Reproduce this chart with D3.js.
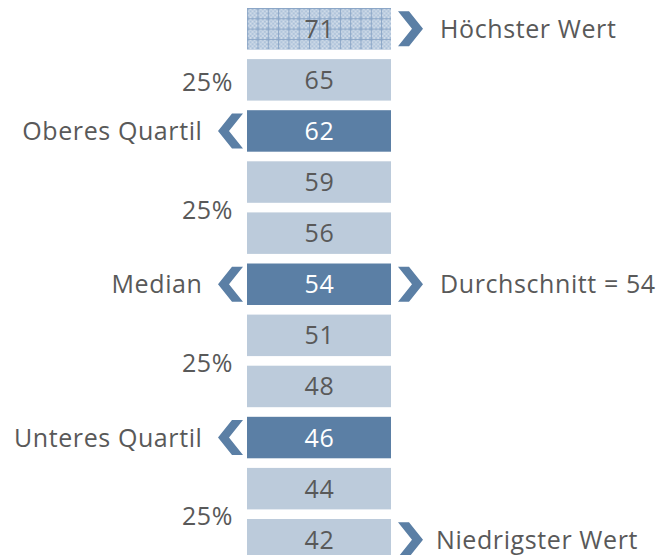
<!DOCTYPE html>
<html>
<head>
<meta charset="utf-8">
<script src="https://cdn.jsdelivr.net/npm/d3@7"></script>
<style>
  body { margin: 0; background: #fff; }
  svg text { font-family: "Open Sans", sans-serif; fill: #595959; letter-spacing: 0.6px; }
</style>
</head>
<body>
<div id="vis"></div>
<script>
// values from top to bottom
var values = [71, 65, 62, 59, 56, 54, 51, 48, 46, 44, 42];
// kind of each box: "max" has the pattern, "key" is dark
var kinds = ["max", "plain", "key", "plain", "plain", "key", "plain", "plain", "key", "plain", "plain"];
var leftLabels = [
  { row: 2, text: "Oberes Quartil" },
  { row: 5, text: "Median" },
  { row: 8, text: "Unteres Quartil" }
];
var rightLabels = [
  { row: 0, text: "Höchster Wert" },
  { row: 5, text: "Durchschnitt = 54" },
  { row: 10, text: "Niedrigster Wert" }
];
var pctLabels = [
  { row: 1, text: "25%" },
  { row: 3.5, text: "25%" },
  { row: 6.5, text: "25%" },
  { row: 9.5, text: "25%" }
];

var width = 659, height = 555;
var LIGHT = "#bccbdb", DARK = "#5b7fa5";
var FS = "25px";

var svg = d3.select("#vis").append("svg")
  .attr("width", width)
  .attr("height", height);

// pattern for the top box
var defs = svg.append("defs");
var pat = defs.append("pattern")
  .attr("id", "checks")
  .attr("patternUnits", "userSpaceOnUse")
  .attr("width", 10.3).attr("height", 10.3);
pat.append("rect").attr("width", 10.3).attr("height", 10.3).attr("fill", "#d3deea");
for (var i = 0; i < 5; i++) {
  for (var j = 0; j < 5; j++) {
    if ((i + j) % 2 === 0) {
      pat.append("rect").attr("x", i * 2 + 0.3).attr("y", j * 2 + 0.3)
        .attr("width", 2).attr("height", 2).attr("fill", "#a9bfd8");
    }
  }
}
pat.append("rect").attr("width", 10.3).attr("height", 1).attr("fill", "#8aa5c6");
pat.append("rect").attr("width", 1).attr("height", 10.3).attr("fill", "#8aa5c6");

var y = d3.scaleBand()
  .domain(d3.range(values.length))
  .range([8, 560.5])
  .paddingInner(0.188)
  .paddingOuter(0);

var x = d3.scaleLinear().domain([0, 1]).range([247, 391]);

function rowCenter(r) {
  return y(0) + y.bandwidth() / 2 + r * y.step();
}

var rows = svg.selectAll(".row")
  .data(values)
  .enter().append("g")
  .attr("class", "row")
  .attr("transform", function(d, i) { return "translate(0," + y(i) + ")"; });

rows.append("rect")
  .attr("x", x(0))
  .attr("width", x(1) - x(0))
  .attr("height", y.bandwidth())
  .attr("fill", function(d, i) {
    if (kinds[i] === "max") return "url(#checks)";
    return kinds[i] === "key" ? DARK : LIGHT;
  });

rows.append("text")
  .attr("x", (x(0) + x(1)) / 2 + 0.5)
  .attr("y", y.bandwidth() / 2)
  .attr("dy", "0.36em")
  .attr("text-anchor", "middle")
  .style("font-size", FS)
  .style("fill", function(d, i) { return kinds[i] === "key" ? "#ffffff" : "#595959"; })
  .text(function(d) { return d; });

// chevrons
var chW = 25, chH = 35, arm = 11;
function chevronRight(cx0, cy) {
  var t = cy - chH / 2, b = cy + chH / 2;
  return [[cx0, t], [cx0 + arm, t], [cx0 + chW, cy], [cx0 + arm, b], [cx0, b], [cx0 + chW - arm, cy]];
}
function chevronLeft(cx1, cy) {
  var t = cy - chH / 2, b = cy + chH / 2;
  return [[cx1, t], [cx1 - arm, t], [cx1 - chW, cy], [cx1 - arm, b], [cx1, b], [cx1 - chW + arm, cy]];
}
var line = d3.line();

svg.selectAll(".chev-r")
  .data(rightLabels)
  .enter().append("path")
  .attr("fill", DARK)
  .attr("d", function(d) { return line(chevronRight(x(1) + 7, rowCenter(d.row))) + "Z"; });

svg.selectAll(".chev-l")
  .data(leftLabels)
  .enter().append("path")
  .attr("fill", DARK)
  .attr("d", function(d) { return line(chevronLeft(x(0) - 4, rowCenter(d.row))) + "Z"; });

svg.selectAll(".lab-r")
  .data(rightLabels)
  .enter().append("text")
  .attr("x", function(d) { return d.row === 10 ? 436 : 440; })
  .attr("y", function(d) { return rowCenter(d.row); })
  .attr("dy", "0.36em")
  .style("font-size", FS)
  .text(function(d) { return d.text; });

svg.selectAll(".lab-l")
  .data(leftLabels)
  .enter().append("text")
  .attr("x", 202.5)
  .attr("y", function(d) { return rowCenter(d.row); })
  .attr("dy", "0.36em")
  .attr("text-anchor", "end")
  .style("font-size", FS)
  .text(function(d) { return d.text; });

svg.selectAll(".pct")
  .data(pctLabels)
  .enter().append("text")
  .attr("x", 233)
  .attr("y", function(d) { return rowCenter(d.row) + 2; })
  .attr("dy", "0.36em")
  .attr("text-anchor", "end")
  .style("font-size", FS)
  .text(function(d) { return d.text; });
</script>
</body>
</html>
